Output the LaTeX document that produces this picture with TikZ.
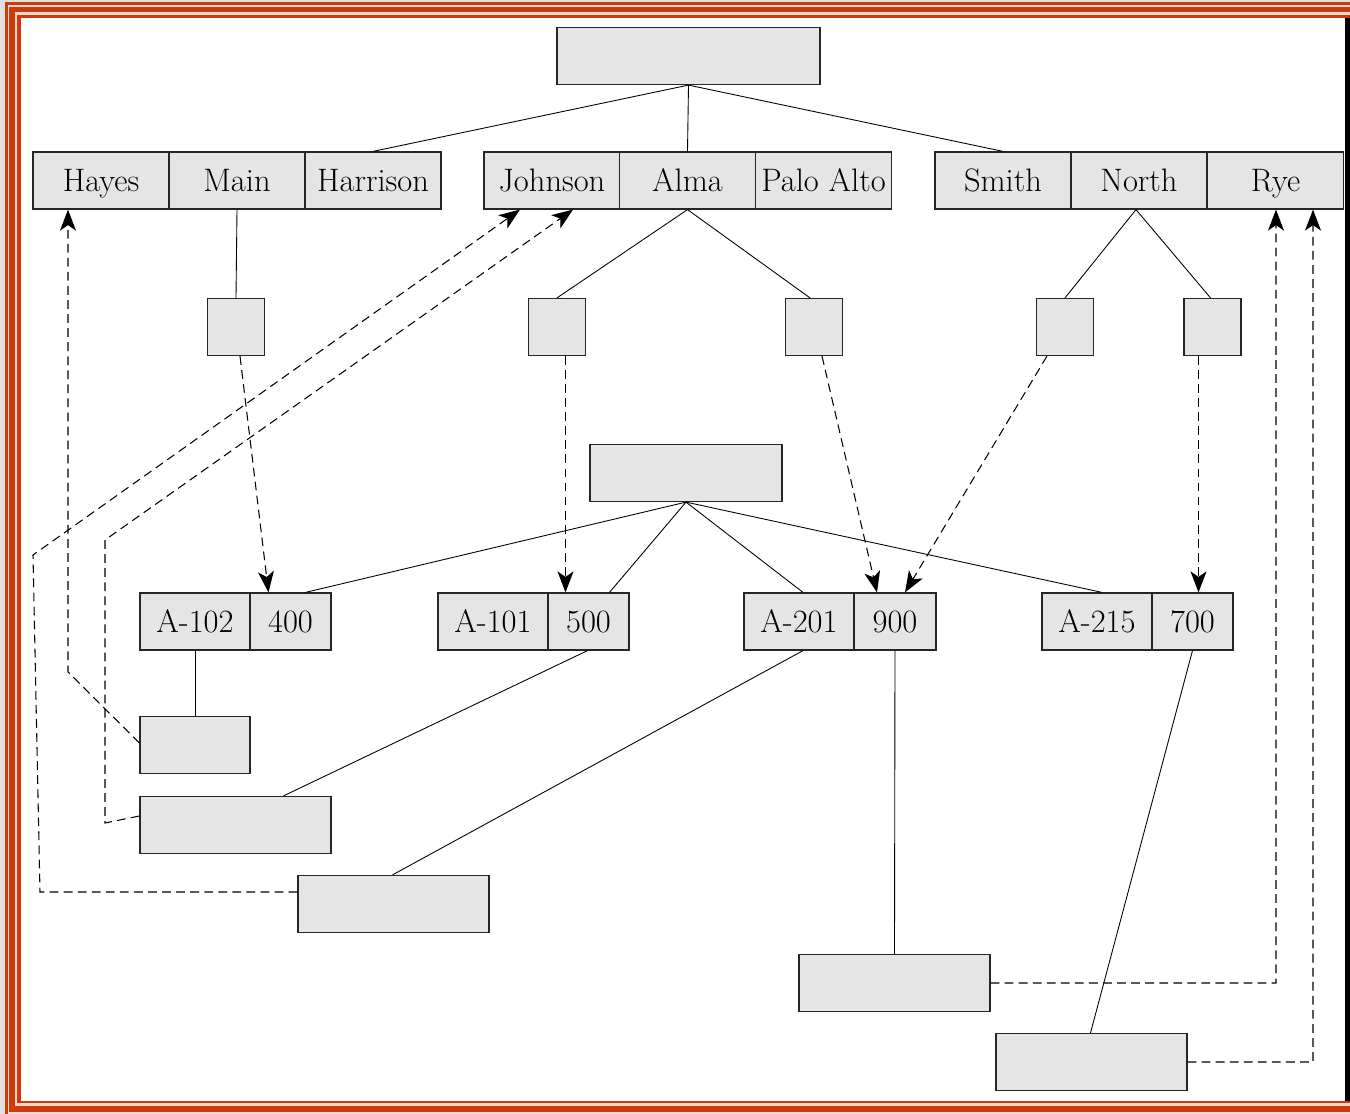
\documentclass[tikz,border=0pt]{standalone}
\usepackage{fontspec}
\usepackage{tikz}
\usetikzlibrary{shapes,positioning,calc}
\usetikzlibrary{arrows.meta}
\definecolor{cornice}{RGB}{208,58,10}
\tikzstyle{cella} = [rectangle, minimum width=2.72cm, minimum height=1.14cm, inner xsep=0pt,
text height=13pt, text depth=0pt, text centered, draw=black!85, fill=black!10, line width=0.7pt,
font=\fontsize{18.5}{22}\selectfont]
\tikzstyle{chiave} = [cella, minimum width=2.2cm]
\tikzstyle{valore} = [cella, minimum width=1.62cm]
\tikzstyle{quadro} = [cella, minimum width=1.14cm]
\tikzstyle{blocco} = [cella, minimum width=3.82cm]
\tikzstyle{legame} = [line width=0.5pt]
\tikzstyle{puntatore} = [line width=0.6pt, dash pattern=on 5pt off 3pt, -{Stealth[length=4.2mm,width=3.2mm,inset=1.1mm]}]

\begin{document}
\begin{tikzpicture}[x=0.02cm, y=-0.02cm]
	\useasboundingbox (0,0) rectangle (1350,1114);
	\fill[black!12] (0,0) rectangle (1350,1114);
	\fill[cornice] (5,2) rectangle (1350,1114);
	\fill[black!12] (8,5) rectangle (1350,1114);
	\fill[cornice] (9,7) rectangle (1350,1112);
	\fill[cornice!20] (15,12.5) rectangle (1350,1105.5);
	\fill[cornice] (17,15) rectangle (1350,1103);
	\fill[white] (21,18.5) rectangle (1345,1100.5);
	\fill[black] (1345,18.5) rectangle (1350,1100.5);

	\node (r) at (688.5,56) [cella, minimum width=5.26cm] {};
	\node (hayes) at (101,180.5) [cella] {Hayes};
	\node (main) at (237,180.5) [cella] {Main};
	\node (harrison) at (373,180.5) [cella] {Harrison};
	\node (johnson) at (552,180.5) [cella] {Johnson};
	\node (alma) at (687.5,180.5) [cella] {Alma};
	\node (paloalto) at (823.5,180.5) [cella] {Palo Alto};
	\node (smith) at (1003,180.5) [cella] {Smith};
	\node (north) at (1139,180.5) [cella] {North};
	\node (rye) at (1275.5,180.5) [cella] {Rye};
	\draw[legame] (r.south) -- (harrison.north);
	\draw[legame] (r.south) -- (alma.north);
	\draw[legame] (r.south) -- (smith.north);

	\node (q1) at (236,327) [quadro] {};
	\node (q2) at (557,327) [quadro] {};
	\node (q3) at (814,327) [quadro] {};
	\node (q4) at (1065,327) [quadro] {};
	\node (q5) at (1212.5,327) [quadro] {};
	\draw[legame] (main.south) -- (q1.north);
	\draw[legame] (alma.south) -- (q2.north);
	\draw[legame] (alma.south) -- ($(q3.north)+(-4,0)$);
	\draw[legame] ($(north.south)+(-3,0)$) -- (q4.north);
	\draw[legame] ($(north.south)+(-3,0)$) -- ($(q5.north)+(-2,0)$);

	\node (s) at (686,473) [cella, minimum width=3.84cm] {};
	\node (k102) at (195,621.5) [chiave] {A-102};
	\node (v400) at (290.5,621.5) [valore] {400};
	\node (k101) at (493,621.5) [chiave] {A-101};
	\node (v500) at (588.5,621.5) [valore] {500};
	\node (k201) at (799,621.5) [chiave] {A-201};
	\node (v900) at (895,621.5) [valore, minimum width=1.64cm] {900};
	\node (k215) at (1097,621.5) [chiave] {A-215};
	\node (v700) at (1192.5,621.5) [valore] {700};
	\draw[legame] (s.south) -- ($(v400.north)+(15,0)$);
	\draw[legame] (s.south) -- ($(v500.north)+(21,0)$);
	\draw[legame] (s.south) -- ($(k201.north)+(4,0)$);
	\draw[legame] (s.south) -- ($(k215.north)+(5,0)$);

	\draw[puntatore] ($(q1.south)+(4,0)$) -- ($(v400.north)+(-22,0)$);
	\draw[puntatore] ($(q2.south)+(8.5,0)$) -- ($(v500.north)+(-23,0)$);
	\draw[puntatore] ($(q3.south)+(8,0)$) -- ($(v900.north)+(-18,0)$);
	\draw[puntatore] ($(q4.south)+(-18,0)$) -- ($(v900.north)+(10,0)$);
	\draw[puntatore] ($(q5.south)+(-14,0)$) -- ($(v700.north)+(6,0)$);

	\node (f1) at (195,745) [chiave] {};
	\node (f2) at (235.5,825) [blocco] {};
	\node (f3) at (393.5,904) [blocco] {};
	\node (f4) at (894.5,983) [blocco] {};
	\node (f5) at (1091.5,1062) [blocco] {};
	\draw[legame] (k102.south) -- (f1.north);
	\draw[legame] ($(v500.south)+(-1,0)$) -- ($(f2.north)+(48,0)$);
	\draw[legame] ($(k201.south)+(4,0)$) -- ($(f3.north)+(-1,0)$);
	\draw[legame] (v900.south) -- (f4.north);
	\draw[legame] (v700.south) -- ($(f5.north)+(-1,0)$);

	\draw[puntatore] ($(f1.west)+(0,-2)$) -- (68,672) -- ($(hayes.south)+(-33,0)$);
	\draw[puntatore] ($(f2.west)+(0,-9)$) -- (105,823) -- (105,540) -- ($(johnson.south)+(21,0)$);
	\draw[puntatore] ($(f3.west)+(0,-12)$) -- (40,892) -- (33,555) -- ($(johnson.south)+(-32,0)$);
	\draw[puntatore] (f4.east) -- (1276,983) -- ($(rye.south)+(0.5,0)$);
	\draw[puntatore] (f5.east) -- (1313,1062) -- ($(rye.south)+(37.5,0)$);
\end{tikzpicture}
\end{document}
